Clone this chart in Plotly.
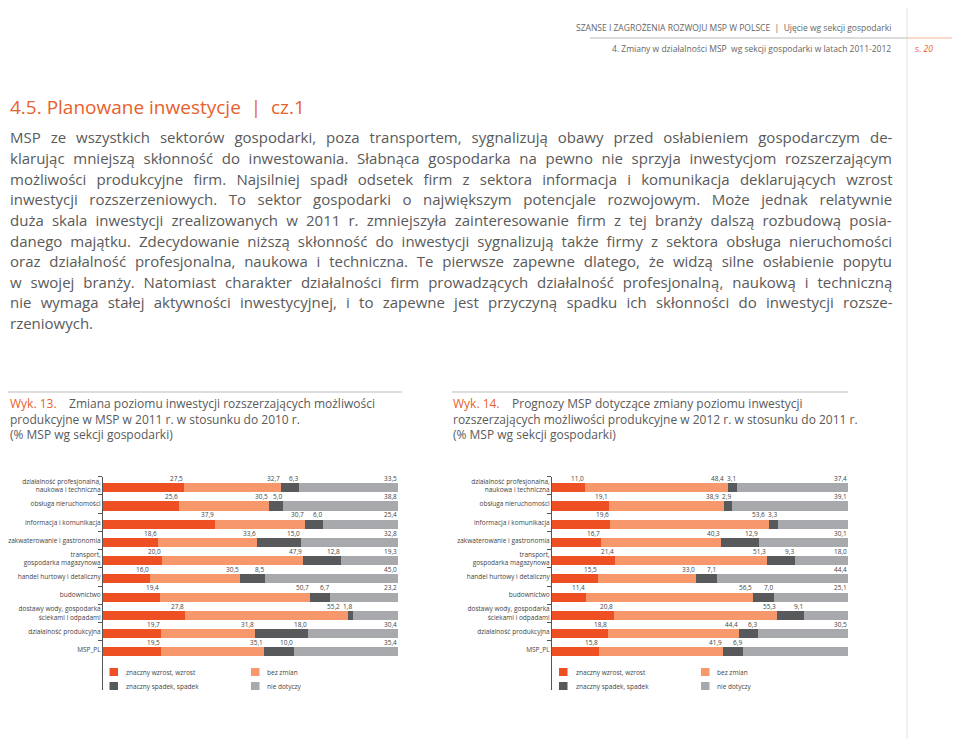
import plotly.graph_objects as go

# ---------------- data ----------------
categories = [
    "działalność profesjonalna,<br>naukowa i techniczna",
    "obsługa nieruchomości",
    "informacja i komunikacja",
    "zakwaterowanie i gastronomia",
    "transport,<br>gospodarka magazynowa",
    "handel hurtowy i detaliczny",
    "budownictwo",
    "dostawy wody, gospodarka<br>ściekami i odpadami",
    "działalność produkcyjna",
    "MSP_PL",
]
series_names = ["znaczny wzrost, wzrost", "bez zmian", "znaczny spadek, spadek", "nie dotyczy"]

w13_wzrost = [27.5, 25.6, 37.9, 18.6, 20.0, 16.0, 19.4, 27.8, 19.7, 19.5]
w13_bez_zmian = [32.7, 30.5, 30.7, 33.6, 47.9, 30.5, 50.7, 55.2, 31.8, 35.1]
w13_spadek = [6.3, 5.0, 6.0, 15.0, 12.8, 8.5, 6.7, 1.8, 18.0, 10.0]
w13_nie_dotyczy = [33.5, 38.8, 25.4, 32.8, 19.3, 45.0, 23.2, 15.3, 30.4, 35.4]

w14_wzrost = [11.0, 19.1, 19.6, 16.7, 21.4, 15.5, 11.4, 20.8, 18.8, 15.8]
w14_bez_zmian = [48.4, 38.9, 53.6, 40.3, 51.3, 33.0, 56.5, 55.3, 44.4, 41.9]
w14_spadek = [3.1, 2.9, 3.3, 12.9, 9.3, 7.1, 7.0, 9.1, 6.3, 6.9]
w14_nie_dotyczy = [37.4, 39.1, 23.6, 30.1, 18.0, 44.4, 25.1, 14.9, 30.5, 35.5]

colors = ["#EE5024", "#F7986C", "#58595B", "#A7A9AC"]

# the page body has an 8 px margin, so the figure is 8 px smaller and
# all page-pixel positions below are shifted by that margin
OFF = 8
W, H = 960 - OFF, 739 - OFF
FONT = "Open Sans"
TXT = "#5A5A5A"
ORANGE = "#E8612C"


def px(x):
    return max(x - OFF, 0) / W


def py(y):
    return 1 - (y - OFF) / H


fig = go.Figure()

charts = [
    ("x", "y", [w13_wzrost, w13_bez_zmian, w13_spadek, w13_nie_dotyczy], 103, 398),
    ("x2", "y2", [w14_wzrost, w14_bez_zmian, w14_spadek, w14_nie_dotyczy], 552, 848),
]

annotations = []
shapes = []

for xa, ya, series, x0, x1 in charts:
    scale = (x1 - x0) / 100.0
    for name, vals, col in zip(series_names, series, colors):
        fig.add_trace(go.Bar(
            x=vals, y=categories, orientation="h", name=name,
            marker=dict(color=col, line=dict(width=0)),
            width=0.5, offset=-0.16, xaxis=xa, yaxis=ya,
            showlegend=False, hoverinfo="x+y+name",
        ))
    # value labels at the right end of every segment
    for i in range(len(categories)):
        cum = 0.0
        for k, vals in enumerate(series):
            cum += vals[i]
            shift = 1
            if k < len(series) - 1:
                nxt = series[k + 1][i] * scale
                if nxt < 12:
                    shift = 1 - (12 - nxt)
            annotations.append(dict(
                x=cum, y=i - 0.16, xref=xa, yref=ya,
                text=f"{vals[i]:.1f}".replace(".", ","),
                showarrow=False, xanchor="right", yanchor="bottom",
                xshift=shift, yshift=-2,
                font=dict(family=FONT, size=6.5, color="#444444"),
            ))

y_dom = [py(690), py(476.7)]
axis_common = dict(
    type="category", categoryorder="array", categoryarray=categories,
    range=[11.2, -0.5], tickson="boundaries", ticks="outside", ticklen=4,
    tickcolor="#555555", showline=True, linecolor="#555555", linewidth=1,
    showgrid=False, zeroline=False,
    tickfont=dict(family=FONT, size=6.5, color="#444444"),
)
fig.update_layout(
    xaxis=dict(domain=[px(103), px(398)], range=[0, 100], visible=False, anchor="y"),
    yaxis=dict(domain=y_dom, anchor="x", **axis_common),
    xaxis2=dict(domain=[px(552), px(848)], range=[0, 100], visible=False, anchor="y2"),
    yaxis2=dict(domain=y_dom, anchor="x2", **axis_common),
)


# ---------------- legends ----------------
def legend(sq_x1, txt_x1, sq_x2, txt_x2):
    items = [
        (sq_x1, txt_x1, 672, 0), (sq_x2, txt_x2, 672, 1),
        (sq_x1, txt_x1, 686, 2), (sq_x2, txt_x2, 686, 3),
    ]
    for sx, tx, cy, k in items:
        shapes.append(dict(type="rect", xref="paper", yref="paper",
                           x0=px(sx), x1=px(sx + 8.5), y0=py(cy - 4), y1=py(cy + 4),
                           fillcolor=colors[k], line=dict(width=0)))
        annotations.append(dict(x=px(tx), y=py(cy), xref="paper", yref="paper",
                                text=series_names[k], showarrow=False,
                                xanchor="left", yanchor="middle",
                                font=dict(family=FONT, size=6.5, color="#444444")))


legend(109.5, 124, 251, 265)
legend(559, 574, 701, 715)

# ---------------- page decoration ----------------
shapes.append(dict(type="line", xref="paper", yref="paper", x0=px(907), x1=px(907),
                   y0=0, y1=1, line=dict(color="#E2E2E2", width=1)))
shapes.append(dict(type="line", xref="paper", yref="paper", x0=px(590), x1=px(907),
                   y0=py(38), y1=py(38), line=dict(color="#BBBBBB", width=1)))
shapes.append(dict(type="line", xref="paper", yref="paper", x0=px(907), x1=1,
                   y0=py(38), y1=py(38), line=dict(color="#F3B597", width=1)))
shapes.append(dict(type="line", xref="paper", yref="paper", x0=px(5), x1=px(402),
                   y0=py(392), y1=py(392), line=dict(color="#BBBBBB", width=1)))
shapes.append(dict(type="line", xref="paper", yref="paper", x0=px(452), x1=px(848),
                   y0=py(392), y1=py(392), line=dict(color="#BBBBBB", width=1)))


def text(x, y, s, size, color=TXT, anchor="left", yanchor="middle"):
    annotations.append(dict(x=px(x), y=py(y), xref="paper", yref="paper", text=s,
                            showarrow=False, xanchor=anchor, yanchor=yanchor, align="left",
                            font=dict(family=FONT, size=size, color=color)))


text(893, 28, "SZANSE I ZAGROŻENIA ROZWOJU MSP W POLSCE  |  Ujęcie wg sekcji gospodarki", 8.5, "#666666", "right")
text(893, 48, "4. Zmiany w działalności MSP  wg sekcji gospodarki w latach 2011-2012", 8.5, "#666666", "right")
text(913, 48, "s. <i>20</i>", 8.5, ORANGE)

text(5, 107, "4.5. Planowane inwestycje  |  cz.1", 19, ORANGE)

paragraph = [
    "MSP ze wszystkich sektorów gospodarki, poza transportem, sygnalizują obawy przed osłabieniem gospodarczym de-",
    "klarując mniejszą skłonność do inwestowania. Słabnąca gospodarka na pewno nie sprzyja inwestycjom rozszerzającym",
    "możliwości produkcyjne firm. Najsilniej spadł odsetek firm z sektora informacja i komunikacja deklarujących wzrost",
    "inwestycji rozszerzeniowych. To sektor gospodarki o największym potencjale rozwojowym. Może jednak relatywnie",
    "duża skala inwestycji zrealizowanych w 2011 r. zmniejszyła zainteresowanie firm z tej branży dalszą rozbudową posia-",
    "danego majątku. Zdecydowanie niższą skłonność do inwestycji sygnalizują także firmy z sektora obsługa nieruchomości",
    "oraz działalność profesjonalna, naukowa i techniczna. Te pierwsze zapewne dlatego, że widzą silne osłabienie popytu",
    "w swojej branży. Natomiast charakter działalności firm prowadzących działalność profesjonalną, naukową i techniczną",
    "nie wymaga stałej aktywności inwestycyjnej, i to zapewne jest przyczyną spadku ich skłonności do inwestycji rozsze-",
    "rzeniowych.",
]

# approximate Open Sans advance widths (em) used to justify lines
CW = {" ": .26, "a": .556, "b": .613, "c": .476, "d": .613, "e": .561, "f": .339, "g": .548,
      "h": .614, "i": .253, "j": .253, "k": .525, "l": .253, "m": .93, "n": .614, "o": .604,
      "p": .613, "q": .613, "r": .408, "s": .477, "t": .353, "u": .614, "v": .501, "w": .778,
      "x": .524, "y": .502, "z": .477, ",": .245, ".": .266, "-": .322, "ą": .556, "ć": .476,
      "ę": .561, "ł": .27, "ń": .614, "ó": .604, "ś": .477, "ż": .477, "ź": .477,
      "M": .903, "S": .55, "P": .598, "T": .56, "N": .756, "Z": .561, "D": .722, "Ż": .561}
PFS = 15
TARGET = 884
for i, line in enumerate(paragraph):
    yy = 137.5 + 20.6 * i
    if i < len(paragraph) - 1:
        nat = sum(CW.get(c, .572) for c in line) * PFS
        nsp = line.count(" ")
        ws = max((TARGET - nat) / nsp, -1.0)
        s = f'<span style="word-spacing:{ws:.2f}px">{line}</span>'
    else:
        s = line
    text(5, yy, s, PFS)

# chart captions
NB = "&nbsp;" * 4
text(5, 393, f'<span style="color:{ORANGE}">Wyk. 13.</span>{NB}Zmiana poziomu inwestycji rozszerzających możliwości'
     "<br>produkcyjne w MSP w 2011 r. w stosunku do 2010 r.<br>(% MSP wg sekcji gospodarki)", 12, yanchor="top")
text(451, 393, f'<span style="color:{ORANGE}">Wyk. 14.</span>{NB}Prognozy MSP dotyczące zmiany poziomu inwestycji'
     "<br>rozszerzających możliwości produkcyjne w 2012 r. w stosunku do 2011 r.<br>(% MSP wg sekcji gospodarki)", 12, yanchor="top")

fig.update_layout(
    width=W, height=H, margin=dict(l=0, r=0, t=0, b=0),
    paper_bgcolor="white", plot_bgcolor="white",
    barmode="stack", bargap=0,
    annotations=annotations, shapes=shapes,
    font=dict(family=FONT, color=TXT),
)

fig.write_html("out.html")
